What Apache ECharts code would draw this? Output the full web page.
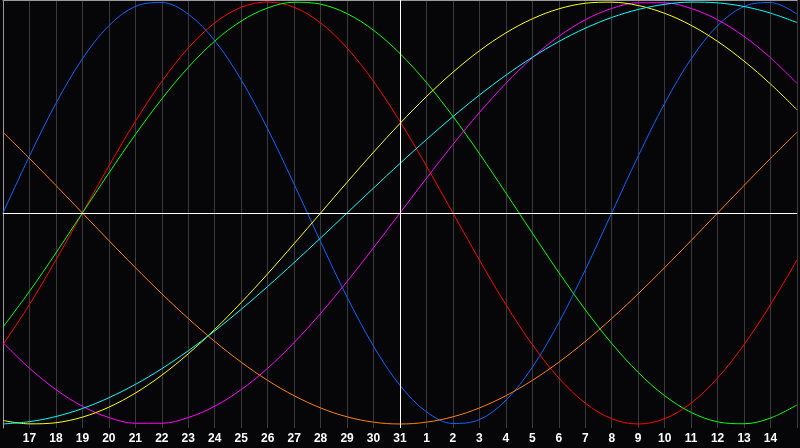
<!DOCTYPE html>
<html>
<head>
<meta charset="utf-8">
<script src="https://cdn.jsdelivr.net/npm/echarts@6/dist/echarts.min.js"></script>
<style>
  html, body { margin: 0; padding: 0; background: #060609; }
  #chart { width: 800px; height: 448px; }
</style>
</head>
<body>
<div id="chart"></div>
<script>
// Day labels (index 0 = left edge, index 30 = right edge)
const days = ['16','17','18','19','20','21','22','23','24','25','26','27','28','29','30','31',
              '1','2','3','4','5','6','7','8','9','10','11','12','13','14','15'];

// Values at each day (range -1 .. 1)
const blue = [0, 0.2698, 0.5196, 0.7308, 0.8879, 0.9791, 0.9977, 0.9423, 0.8170, 0.6311,
  0.3984, 0.1362, -0.1362, -0.3984, -0.6311, -0.8170, -0.9423, -0.9977, -0.9791, -0.8879,
  -0.7308, -0.5196, -0.2698, 0, 0.2698, 0.5196, 0.7308, 0.8879, 0.9791, 0.9977, 0.9423];

const red = [-0.6235, -0.4339, -0.2225, 0, 0.2225, 0.4339, 0.6235, 0.7818, 0.9010, 0.9749,
  1, 0.9749, 0.9010, 0.7818, 0.6235, 0.4339, 0.2225, 0, -0.2225, -0.4339,
  -0.6235, -0.7818, -0.9010, -0.9749, -1, -0.9749, -0.9010, -0.7818, -0.6235, -0.4339, -0.2225];

const green = [-0.5406, -0.3717, -0.1893, 0, 0.1893, 0.3717, 0.5406, 0.6901, 0.8146, 0.9096,
  0.9718, 0.9989, 0.9898, 0.9450, 0.8660, 0.7557, 0.6182, 0.4582, 0.2817, 0.0951,
  -0.0951, -0.2817, -0.4582, -0.6182, -0.7557, -0.8660, -0.9450, -0.9898, -0.9989, -0.9718, -0.9096];

const yellow = [-0.9834, -0.9993, -0.9940, -0.9675, -0.9203, -0.8536, -0.7686, -0.6672, -0.5517, -0.4244,
  -0.2881, -0.1456, 0, 0.1456, 0.2881, 0.4244, 0.5517, 0.6672, 0.7686, 0.8536,
  0.9203, 0.9675, 0.9940, 0.9993, 0.9834, 0.9464, 0.8893, 0.8133, 0.7199, 0.6112, 0.4895];

const magenta = [-0.6142, -0.7357, -0.8372, -0.9158, -0.9694, -0.9966, -0.9966, -0.9694, -0.9158, -0.8372,
  -0.7357, -0.6142, -0.4759, -0.3247, -0.1646, 0, 0.1646, 0.3247, 0.4759, 0.6142,
  0.7357, 0.8372, 0.9158, 0.9694, 0.9966, 0.9966, 0.9694, 0.9158, 0.8372, 0.7357, 0.6142];

const cyan = [-0.9996, -0.9890, -0.9646, -0.9267, -0.8757, -0.8125, -0.7379, -0.6529, -0.5586, -0.4566,
  -0.3482, -0.2349, -0.1183, 0, 0.1183, 0.2349, 0.3482, 0.4566, 0.5586, 0.6529,
  0.7379, 0.8125, 0.8757, 0.9267, 0.9646, 0.9890, 0.9996, 0.9960, 0.9786, 0.9473, 0.9028];

const orange = [0.3827, 0.2588, 0.1305, 0, -0.1305, -0.2588, -0.3827, -0.5, -0.6088, -0.7071,
  -0.7934, -0.8660, -0.9239, -0.9659, -0.9914, -1, -0.9914, -0.9659, -0.9239, -0.8660,
  -0.7934, -0.7071, -0.6088, -0.5, -0.3827, -0.2588, -0.1305, 0, 0.1305, 0.2588, 0.3827];

const todayLabel = '31';

const seriesDefs = [
  { name: 'Physical', data: blue, color: '#0a64ff' },
  { name: 'Emotional', data: red, color: '#ff0000' },
  { name: 'Intellectual', data: green, color: '#00ff00' },
  { name: 'Intuitive', data: magenta, color: '#ff00ff' },
  { name: 'Aesthetic', data: yellow, color: '#ffff00' },
  { name: 'Awareness', data: orange, color: '#ff8000' },
  { name: 'Spiritual', data: cyan, color: '#00ffff' }
];

const chart = echarts.init(document.getElementById('chart'), null, { renderer: 'canvas' });

const series = [{
  type: 'line',
  data: [],
  silent: true,
  z: 1,
  markLine: {
    silent: true,
    symbol: 'none',
    label: { show: false },
    lineStyle: { color: '#ffffff', width: 1, type: 'solid' },
    data: [{ xAxis: todayLabel }, { yAxis: 0 }]
  }
}].concat(seriesDefs.map(s => ({
  name: s.name,
  type: 'line',
  data: s.data,
  smooth: 0.35,
  symbol: 'none',
  showSymbol: false,
  z: 2,
  lineStyle: { color: s.color, width: 1 },
  itemStyle: { color: s.color }
})));

chart.setOption({
  backgroundColor: '#060609',
  animation: false,
  grid: { left: 0, right: 0, top: 0, bottom: 20, containLabel: false },
  xAxis: [{
    type: 'category',
    data: days,
    boundaryGap: false,
    axisLine: { show: true, lineStyle: { color: '#9a9a9a', width: 1 } },
    axisTick: { show: false },
    axisLabel: {
      interval: 0,
      color: '#ffffff',
      fontFamily: 'Liberation Sans',
      fontWeight: 'bold',
      fontSize: 12,
      margin: 5,
      formatter: (v, i) => (i === 0 || i === days.length - 1) ? '' : v
    },
    splitLine: { show: true, interval: 0, lineStyle: { color: '#3a3a3c', width: 1 } }
  }, {
    type: 'category',
    data: days,
    position: 'top',
    boundaryGap: false,
    axisLine: { show: true, lineStyle: { color: '#9a9a9a', width: 1 } },
    axisTick: { show: false },
    axisLabel: { show: false },
    splitLine: { show: false }
  }],
  yAxis: {
    type: 'value',
    min: -1.019,
    max: 1.0095,
    axisLine: { show: true, lineStyle: { color: '#9a9a9a', width: 1 } },
    axisTick: { show: false },
    axisLabel: { show: false },
    splitLine: { show: false }
  },
  series: series
});
</script>
</body>
</html>
